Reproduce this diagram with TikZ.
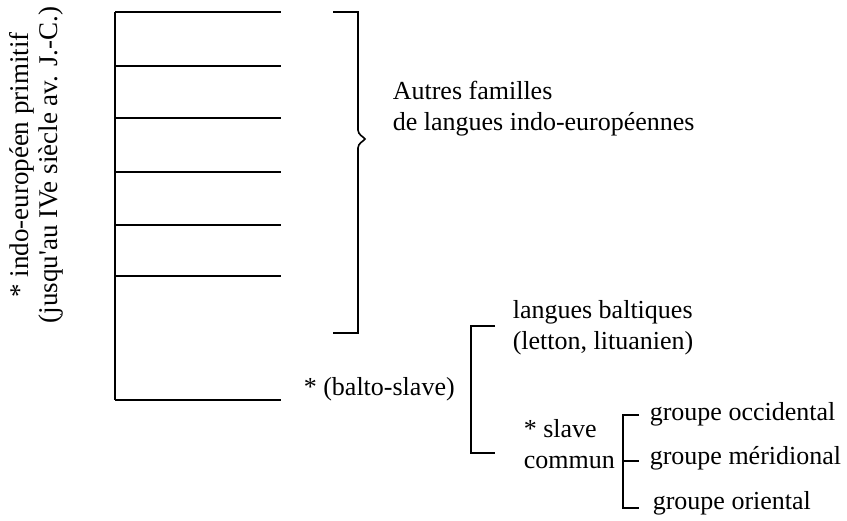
\documentclass[tikz,border=0pt]{standalone}
\usepackage{fontspec}
\setmainfont{Liberation Serif}
\usetikzlibrary{positioning}

\begin{document}
\begin{tikzpicture}[x=1pt,y=-1pt,line width=1.6pt,
            lbl/.style={inner sep=0pt,font=\fontsize{26}{31}\selectfont},
            lblB/.style={lbl,anchor=base west}]
            \useasboundingbox (0,0) rectangle (847,521);

            % Define the root and the branches
            \coordinate (R0) at (115,12);
            \coordinate (R1) at (115,400);
            \foreach \y [count=\i] in {12,66,118,172,225,276,400}
                \coordinate (B\i) at (281,\y);
            \node[lbl,font=\fontsize{27}{29}\selectfont,rotate=90,align=center] (IE) at (36,165)
                {* indo-européen primitif\\(jusqu\textquotesingle au IVe siècle av. J.-C.)};

            % Connect the root with the branches
            \draw (R0) -- (R1);
            \foreach \i in {1,...,7}
                \draw (R0 |- B\i) -- (B\i);

            % Brace for the other families
            \coordinate (T) at (333,12);
            \coordinate (U) at (333,333);
            \draw (T) -- (358,12) -- (358,130)
                .. controls (358,135) and (364,137) .. (365,139)
                .. controls (364,141) and (358,143) .. (358,148)
                -- (358,333) -- (U);
            \node[lblB,align=left] (AF) at (392,131)
                {Autres familles\\de langues indo-européennes};

            % Balto-slave group
            \node[lblB] (BS) at (303,396) {* (balto-slave)};
            \node[lblB] (LB) at (512,319) {langues baltiques};
            \node[lblB] (LT) at (512,350) {(letton, lituanien)};
            \coordinate (L1) at (495,326);
            \coordinate (L2) at (495,453);
            \draw (L1) -- (471,326) -- (471,453) -- (L2);

            % Common slavic
            \node[lblB] (SL) at (523,438) {* slave};
            \node[lblB] (SC) at (523,469) {commun};
            \coordinate (S0) at (623,415);
            \coordinate (S2) at (623,508);
            \node[lblB] (G1) at (649,421) {groupe occidental};
            \node[lblB] (G2) at (649,465) {groupe méridional};
            \node[lblB] (G3) at (652,510) {groupe oriental};
            \draw (639,415) -- (S0) -- (S2) -- (639,508);
            \draw (623,461) -- (639,461);
\end{tikzpicture}
\end{document}
